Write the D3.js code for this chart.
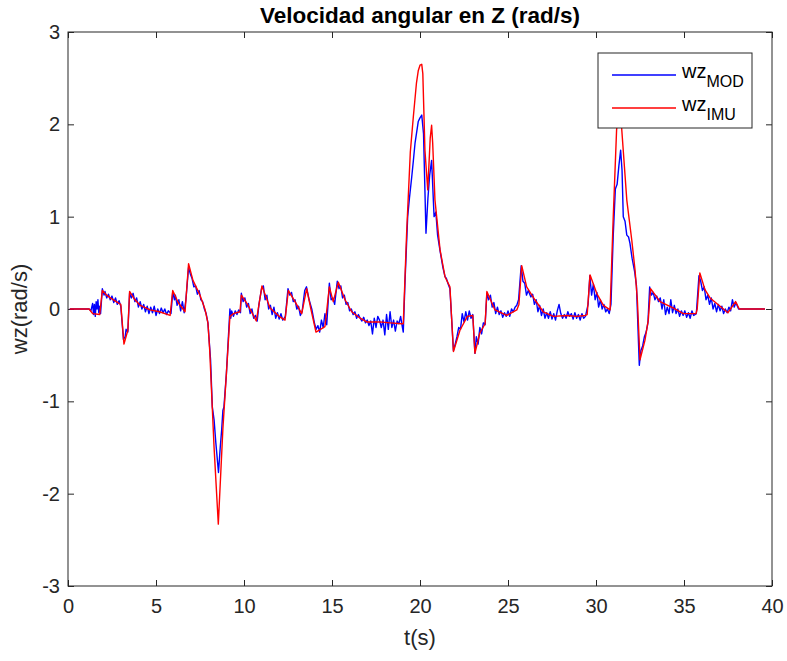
<html>
<script src="https://d3js.org/d3.v7.min.js"></script>
<style>
body{margin:0;background:#fff;}
svg{font-family:"Liberation Sans",Arial,sans-serif;}
</style>
<body>
<div class="chart"></div>
</body>
<script>
const W = 787, H = 661;
const margin = {top: 32, right: 15, bottom: 75, left: 68};
const width = W - margin.left - margin.right;
const height = H - margin.top - margin.bottom;

const xTicks = [0, 5, 10, 15, 20, 25, 30, 35, 40];
const yTicks = [-3, -2, -1, 0, 1, 2, 3];
const seriesNames = ['MOD', 'IMU'];
const seriesColors = ['#0000ff', '#ff0000'];

// wz IMU (smoother, red) as [t, value]
const wzIMU = [
  [0.1,0],[1.2,0],[1.4,-0.05],[1.8,-0.06],[1.95,0.2],[2.2,0.15],[2.4,0.12],[2.9,0.06],[3.0,0.05],
  [3.18,-0.38],[3.4,-0.23],[3.5,0.19],[3.8,0.1],[4.1,0.04],[4.66,-0.01],[5.2,-0.03],[5.8,-0.07],
  [5.95,0.2],[6.26,0.07],[6.65,-0.03],[6.85,0.49],[7.1,0.31],[7.5,0.15],[7.78,0],[7.95,-0.15],
  [8.05,-0.44],[8.3,-1.5],[8.54,-2.33],[8.8,-1.3],[9.0,-0.7],[9.2,-0.08],[9.4,-0.05],[9.77,-0.03],
  [9.85,0.15],[10.2,0.05],[10.7,-0.13],[11.02,0.25],[11.48,0.01],[12.0,-0.08],[12.33,-0.12],
  [12.52,0.2],[12.9,0.08],[13.28,-0.05],[13.56,0.22],[13.8,0.0],[14.09,-0.25],[14.6,-0.19],
  [14.85,0.24],[15.07,0.08],[15.36,0.29],[15.74,0.1],[16.12,-0.03],[16.6,-0.1],[16.97,-0.14],
  [17.73,-0.14],[18.3,-0.15],[18.96,-0.16],[19.05,-0.16],[19.24,0.82],[19.45,1.7],[19.62,2.08],
  [19.8,2.45],[19.9,2.58],[20.0,2.64],[20.1,2.65],[20.16,2.55],[20.28,1.72],[20.44,1.29],
  [20.58,1.85],[20.66,1.99],[20.72,1.8],[20.85,1.18],[21.14,0.64],[21.42,0.35],
  [21.7,0.24],[21.9,-0.46],[22.27,-0.23],[22.69,-0.08],[23.0,-0.07],[23.12,-0.48],[23.4,-0.26],
  [23.7,-0.16],[23.8,0.19],[24.26,-0.01],[24.93,-0.07],[25.5,-0.01],[25.62,0.05],[25.78,0.47],
  [26.06,0.24],[26.53,0.1],[27.0,-0.03],[27.58,-0.08],[28.33,-0.07],[28.9,-0.08],[29.38,-0.07],
  [29.5,-0.06],[29.66,0.37],[30.04,0.17],[30.42,0.04],[30.8,-0.01],[30.98,1.0],[31.17,1.94],
  [31.3,2.15],[31.45,1.98],[31.75,1.18],[32.03,0.75],[32.22,0.42],[32.35,0.1],[32.5,-0.55],
  [32.78,-0.34],[32.97,-0.12],[33.1,0.22],[33.64,0.08],[34.4,0.01],[34.96,-0.05],[35.68,-0.05],
  [35.75,0.0],[35.9,0.39],[36.19,0.21],[36.48,0.12],[37.05,0.03],[37.5,-0.04],[37.93,0.08],
  [38.14,0.0],[39.6,0]
];

// wz MOD (noisy, blue) as [t, value]
const wzMOD = [
  [0.1,0],[1.2,0],[1.3,-0.02],[1.4,0.06],[1.45,-0.06],[1.5,0.05],[1.55,-0.08],[1.6,0.08],[1.65,0.0],
  [1.7,0.1],[1.75,-0.04],[1.8,0.03],[1.85,-0.05],[1.95,0.22],[2.05,0.15],[2.1,0.19],[2.2,0.12],
  [2.3,0.16],[2.4,0.1],[2.5,0.14],[2.6,0.07],[2.7,0.12],[2.8,0.05],[2.9,0.09],[3.0,0.03],
  [3.15,-0.33],[3.25,-0.3],[3.3,-0.22],[3.4,-0.25],[3.5,0.17],[3.6,0.12],[3.7,0.17],[3.8,0.08],
  [3.9,0.12],[4.0,0.02],[4.1,0.08],[4.2,0.0],[4.3,0.05],[4.4,-0.03],[4.5,0.03],[4.6,-0.05],
  [4.7,0.02],[4.8,-0.04],[4.9,0.03],[5.0,-0.07],[5.1,0.0],[5.2,-0.05],[5.3,0.01],[5.4,-0.04],
  [5.5,0.0],[5.6,-0.06],[5.7,-0.02],[5.85,-0.05],[5.95,0.18],[6.05,0.1],[6.1,0.15],[6.2,0.04],
  [6.3,0.1],[6.4,-0.02],[6.5,0.08],[6.6,-0.04],[6.7,0.1],[6.85,0.45],[6.95,0.38],[7.05,0.33],
  [7.15,0.24],[7.25,0.25],[7.35,0.16],[7.45,0.2],[7.55,0.1],[7.65,0.08],[7.75,0.0],[7.85,-0.05],
  [7.95,-0.15],[8.1,-0.55],[8.2,-1.06],[8.3,-1.2],[8.4,-1.45],[8.55,-1.77],[8.65,-1.5],[8.73,-1.31],
  [8.8,-1.1],[8.86,-1.06],[9.0,-0.7],[9.1,-0.35],[9.2,0.0],[9.25,-0.1],[9.3,-0.02],[9.4,-0.08],
  [9.5,-0.02],[9.6,-0.06],[9.7,-0.01],[9.8,-0.04],[9.85,0.17],[9.95,0.08],[10.05,0.12],[10.15,0.02],
  [10.25,0.06],[10.35,-0.05],[10.45,0.0],[10.55,-0.1],[10.65,-0.07],[10.75,-0.13],[10.85,0.05],
  [11.0,0.22],[11.1,0.25],[11.2,0.1],[11.3,0.15],[11.4,0.0],[11.5,0.04],[11.6,-0.06],[11.7,0.02],
  [11.8,-0.1],[11.9,-0.04],[12.0,-0.11],[12.1,-0.05],[12.2,-0.12],[12.35,-0.08],[12.5,0.22],
  [12.6,0.15],[12.7,0.18],[12.8,0.08],[12.9,0.1],[13.0,0.0],[13.1,0.03],[13.2,-0.07],[13.3,-0.03],
  [13.45,0.2],[13.55,0.24],[13.7,0.1],[13.85,0.0],[14.0,-0.15],[14.1,-0.22],[14.2,-0.18],
  [14.3,-0.25],[14.4,-0.12],[14.5,-0.2],[14.6,-0.05],[14.7,-0.17],[14.85,0.28],[14.95,0.1],
  [15.05,0.12],[15.15,0.05],[15.3,0.3],[15.4,0.22],[15.5,0.25],[15.6,0.12],[15.7,0.15],[15.8,0.05],
  [15.9,0.07],[16.0,-0.02],[16.1,0.0],[16.2,-0.06],[16.3,-0.03],[16.4,-0.1],[16.5,-0.06],
  [16.6,-0.1],[16.7,-0.13],[16.8,-0.09],[16.9,-0.15],[17.0,-0.12],[17.1,-0.18],[17.2,-0.13],
  [17.3,-0.27],[17.4,-0.1],[17.5,-0.2],[17.6,-0.08],[17.7,-0.12],[17.8,-0.2],[17.9,-0.12],
  [18.0,-0.28],[18.1,-0.06],[18.2,-0.22],[18.3,-0.03],[18.4,-0.2],[18.5,-0.12],[18.6,-0.24],
  [18.7,-0.13],[18.8,-0.16],[18.9,-0.08],[19.0,-0.2],[19.05,-0.25],[19.15,0.3],[19.3,1.0],
  [19.4,1.2],[19.53,1.43],[19.62,1.6],[19.72,1.8],[19.9,2.03],[20.0,2.07],[20.1,2.1],[20.2,1.9],
  [20.34,0.82],[20.45,1.2],[20.55,1.45],[20.66,1.61],[20.8,1.0],[20.9,1.05],[21.0,0.8],
  [21.14,0.63],[21.3,0.45],[21.42,0.35],[21.5,0.33],[21.6,0.27],[21.7,0.22],[21.9,-0.45],
  [22.0,-0.38],[22.1,-0.3],[22.2,-0.2],[22.3,-0.22],[22.4,-0.05],[22.5,-0.14],[22.6,-0.03],
  [22.7,-0.12],[22.8,-0.02],[22.9,-0.1],[23.0,-0.06],[23.12,-0.48],[23.2,-0.3],[23.3,-0.38],
  [23.4,-0.2],[23.5,-0.27],[23.6,-0.15],[23.7,-0.17],[23.8,0.17],[23.9,0.1],[24.0,0.15],
  [24.1,0.02],[24.2,0.07],[24.3,-0.05],[24.4,0.02],[24.5,-0.06],[24.6,-0.02],[24.7,-0.09],
  [24.8,-0.04],[24.9,-0.08],[25.0,-0.02],[25.1,-0.08],[25.2,0.0],[25.3,-0.03],[25.4,0.02],
  [25.5,0.04],[25.6,0.1],[25.75,0.47],[25.85,0.3],[25.95,0.28],[26.05,0.15],[26.15,0.2],
  [26.3,0.13],[26.4,0.16],[26.5,0.05],[26.6,0.1],[26.7,-0.03],[26.8,0.04],[26.9,-0.07],[27.0,0.0],
  [27.1,-0.1],[27.2,-0.04],[27.3,-0.1],[27.4,-0.03],[27.5,-0.11],[27.6,-0.05],[27.7,-0.12],
  [27.8,-0.02],[27.9,0.05],[28.0,-0.05],[28.1,-0.1],[28.2,-0.06],[28.3,-0.1],[28.4,-0.03],
  [28.5,-0.08],[28.6,-0.05],[28.7,-0.11],[28.8,-0.04],[28.9,-0.1],[29.0,-0.06],[29.1,-0.12],
  [29.2,-0.05],[29.3,-0.1],[29.4,-0.08],[29.55,0.05],[29.65,0.36],[29.75,0.15],[29.85,0.27],
  [29.95,0.1],[30.05,0.18],[30.15,0.02],[30.25,0.1],[30.35,0.0],[30.45,0.05],[30.55,-0.03],
  [30.65,0.0],[30.75,-0.05],[30.85,0.05],[30.98,0.8],[31.1,1.3],[31.2,1.35],[31.3,1.55],
  [31.4,1.72],[31.48,1.5],[31.55,1.0],[31.65,0.95],[31.75,0.8],[31.85,0.78],[31.93,0.71],
  [32.05,0.55],[32.2,0.4],[32.3,0.25],[32.46,-0.61],[32.55,-0.45],[32.65,-0.4],[32.75,-0.3],
  [32.85,-0.25],[32.95,-0.15],[33.05,0.24],[33.15,0.15],[33.25,0.18],[33.35,0.1],[33.45,0.14],
  [33.55,0.08],[33.65,0.12],[33.75,0.0],[33.85,0.1],[33.95,-0.06],[34.05,0.02],[34.15,-0.05],
  [34.25,0.1],[34.35,-0.04],[34.45,0.04],[34.55,-0.05],[34.65,0.0],[34.75,-0.08],[34.85,-0.02],
  [34.95,-0.07],[35.05,-0.02],[35.15,-0.09],[35.25,-0.04],[35.35,-0.1],[35.45,-0.02],[35.55,-0.07],
  [35.7,-0.05],[35.85,0.36],[35.95,0.3],[36.05,0.2],[36.15,0.24],[36.25,0.1],[36.35,0.15],
  [36.45,0.05],[36.55,0.12],[36.65,0.0],[36.75,0.06],[36.85,-0.03],[36.95,0.05],[37.05,-0.02],
  [37.15,0.03],[37.25,-0.05],[37.35,0.0],[37.45,-0.04],[37.55,0.02],[37.65,-0.02],[37.75,0.1],
  [37.85,0.02],[37.95,0.07],[38.1,0.0],[39.6,0]
];

const svg = d3.select('.chart').append('svg')
    .attr('width', W)
    .attr('height', H);

const g = svg.append('g')
    .attr('transform', `translate(${margin.left},${margin.top})`);

const x = d3.scaleLinear().domain([0, 40]).range([0, width]);
const y = d3.scaleLinear().domain([-3, 3]).range([height, 0]);

const axisColor = '#262626';
const styleAxis = (sel, labels) => {
    sel.select('.domain').remove();
    sel.selectAll('line').attr('stroke', axisColor);
    sel.selectAll('text')
        .attr('fill', labels ? axisColor : 'none')
        .style('font-size', '20px')
        .style('font-family', '"Liberation Sans", Arial, sans-serif');
};

g.append('g')
    .attr('transform', `translate(0,${height})`)
    .call(d3.axisBottom(x).tickValues(xTicks).tickSize(-6).tickPadding(13).tickFormat(d => String(d)))
    .call(s => styleAxis(s, true));
g.append('g')
    .call(d3.axisTop(x).tickValues(xTicks).tickSize(-6).tickFormat(''))
    .call(s => styleAxis(s, false));
g.append('g')
    .call(d3.axisLeft(y).tickValues(yTicks).tickSize(-6).tickPadding(8).tickFormat(d => String(d)))
    .call(s => styleAxis(s, true));
g.append('g')
    .attr('transform', `translate(${width},0)`)
    .call(d3.axisRight(y).tickValues(yTicks).tickSize(-6).tickFormat(''))
    .call(s => styleAxis(s, false));

const line = d3.line()
    .x(d => x(d[0]))
    .y(d => y(d[1]));

g.append('path')
    .attr('d', line(wzMOD))
    .attr('fill', 'none')
    .attr('stroke', seriesColors[0])
    .attr('stroke-width', 1.4)
    .attr('stroke-linejoin', 'round');

g.append('path')
    .attr('d', line(wzIMU))
    .attr('fill', 'none')
    .attr('stroke', seriesColors[1])
    .attr('stroke-width', 1.4)
    .attr('stroke-linejoin', 'round');

// box
g.append('rect')
    .attr('width', width)
    .attr('height', height)
    .attr('fill', 'none')
    .attr('stroke', axisColor)
    .attr('stroke-width', 1);

// legend
const leg = svg.append('g').attr('transform', 'translate(598,53)');
leg.append('rect')
    .attr('width', 154)
    .attr('height', 75)
    .attr('fill', '#fff')
    .attr('stroke', axisColor);
seriesNames.forEach((name, i) => {
    const ly = 22 + i * 33;
    leg.append('line')
        .attr('x1', 14).attr('x2', 78)
        .attr('y1', ly).attr('y2', ly)
        .attr('stroke', seriesColors[i])
        .attr('stroke-width', 1.4);
    const t = leg.append('text')
        .attr('x', 84)
        .attr('y', ly + 3)
        .attr('fill', '#000')
        .style('font-size', '20px');
    t.append('tspan').text('wz');
    t.append('tspan')
        .attr('dy', 9)
        .style('font-size', '16px')
        .text(name);
});

// title and labels
svg.append('text')
    .attr('x', margin.left + width / 2)
    .attr('y', 23)
    .attr('text-anchor', 'middle')
    .style('font-size', '22.5px')
    .style('font-weight', 'bold')
    .attr('fill', '#000')
    .text('Velocidad angular en Z (rad/s)');

svg.append('text')
    .attr('x', margin.left + width / 2)
    .attr('y', 645)
    .attr('text-anchor', 'middle')
    .style('font-size', '22px')
    .attr('fill', axisColor)
    .text('t(s)');

svg.append('text')
    .attr('transform', `translate(27,${margin.top + height / 2}) rotate(-90)`)
    .attr('text-anchor', 'middle')
    .style('font-size', '22px')
    .attr('fill', axisColor)
    .text('wz(rad/s)');
</script>
</html>
